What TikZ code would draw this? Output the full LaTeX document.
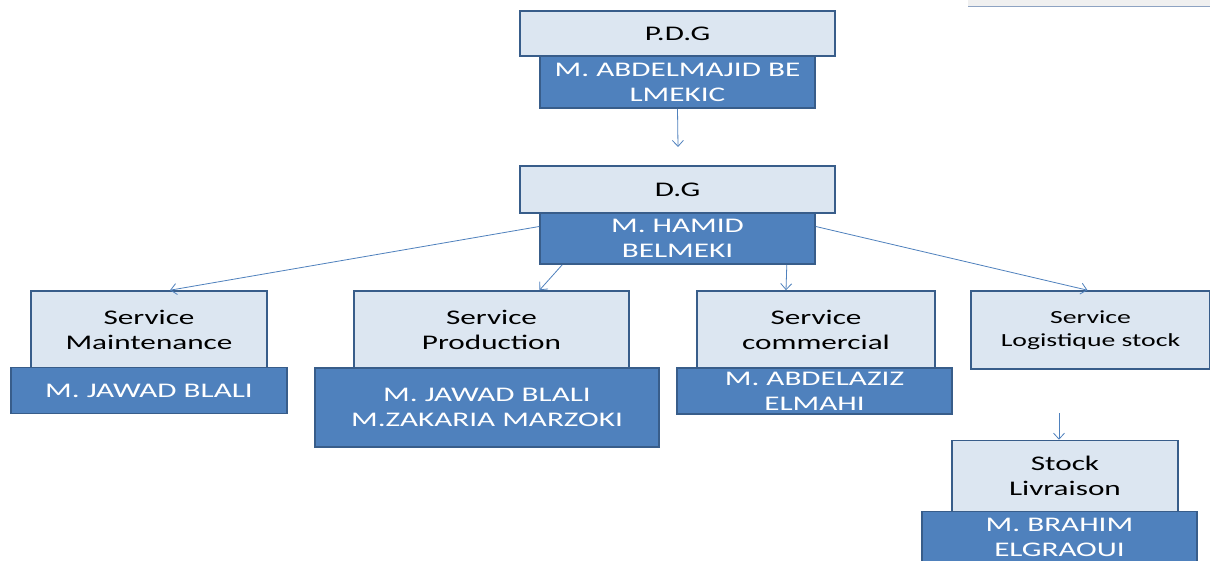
\documentclass[tikz,border=0pt]{standalone}
\usepackage{fontspec}
\setmainfont{Carlito}[FakeStretch=1.5]
\usetikzlibrary{arrows.meta}
\definecolor{lightfill}{RGB}{220,230,241}
\definecolor{darkfill}{RGB}{79,129,189}
\definecolor{boxborder}{RGB}{56,93,138}
\definecolor{linkcol}{RGB}{79,129,189}
\definecolor{decogray}{RGB}{240,240,240}
\definecolor{decoline}{RGB}{142,163,194}
\tikzset{
  lightbox/.style={draw=boxborder, line width=1.6pt, fill=lightfill, inner sep=0pt, align=center,
    font=\fontsize{20.8}{25}\selectfont, text=black},
  darkbox/.style={draw=boxborder, line width=1.6pt, fill=darkfill, inner sep=0pt, align=center,
    font=\fontsize{20.8}{25}\selectfont, text=white},
  link/.style={draw=linkcol, line width=0.8pt, -{Straight Barb[length=6pt,width=11pt]}}
}
\begin{document}
\begin{tikzpicture}[x=1pt,y=-1pt]
\useasboundingbox (0,0) rectangle (1210,561);
\fill[white] (0,0) rectangle (1210,561);
% top-right decoration
\fill[decogray] (968,0) rectangle (1210,7);
\draw[decoline, line width=1pt] (968,7) -- (1210,7);

% PDG
\node[lightbox, minimum width=315pt, minimum height=45pt] (pdg) at (677.5,33.5) {P.D.G};
\node[darkbox, minimum width=275pt, minimum height=52pt] (pdgd) at (677.5,82) {M. ABDELMAJID BE\\LMEKIC};
% DG
\node[lightbox, minimum width=315pt, minimum height=47pt] (dg) at (677.5,189.5) {D.G};
\node[darkbox, minimum width=275pt, minimum height=51pt] (dgd) at (677.5,238.5) {M. HAMID\\BELMEKI};
% Maintenance
\node[lightbox, minimum width=236pt, minimum height=77pt] (maint) at (149,329.5) {Service\\Maintenance};
\node[darkbox, minimum width=276pt, minimum height=46pt] (maintd) at (149,390.5) {M. JAWAD BLALI};
% Production
\node[lightbox, minimum width=275pt, minimum height=77pt] (prod) at (491.5,329.5) {Service\\Production};
\node[darkbox, minimum width=344pt, minimum height=79pt] (prodd) at (487,407.5) {M. JAWAD BLALI\\M.ZAKARIA MARZOKI};
% Commercial
\node[lightbox, minimum width=238pt, minimum height=77pt] (comm) at (816,329.5) {Service\\commercial};
\node[darkbox, minimum width=275pt, minimum height=46pt] (commd) at (814.5,391) {M. ABDELAZIZ\\ELMAHI};
% Logistique
\node[lightbox, minimum width=239pt, minimum height=78pt, font=\fontsize{18.5}{23}\selectfont] (log) at (1090.5,330) {Service\\Logistique stock};
% Stock
\node[lightbox, minimum width=226pt, minimum height=71pt] (stock) at (1065,476) {Stock\\Livraison};
\node[darkbox, minimum width=275pt, minimum height=52pt] (stockd) at (1059.5,537.5) {M. BRAHIM\\ELGRAOUI};

\coordinate (pa) at (678,147);
\coordinate (la) at (1059,413);

\draw[link] (pdgd.south) -- (pa);
\draw[link] ([yshift=12pt]dgd.west) -- ([xshift=21pt]maint.north);
\draw[link] ([xshift=23pt]dgd.south west) -- ([xshift=48pt]prod.north);
\draw[link] ([xshift=-29pt]dgd.south east) -- ([xshift=-30pt]comm.north);
\draw[link] ([yshift=12pt]dgd.east) -- ([xshift=-3pt]log.north);
\draw[link] (la) -- ([xshift=-6pt]stock.north);
\end{tikzpicture}
\end{document}
